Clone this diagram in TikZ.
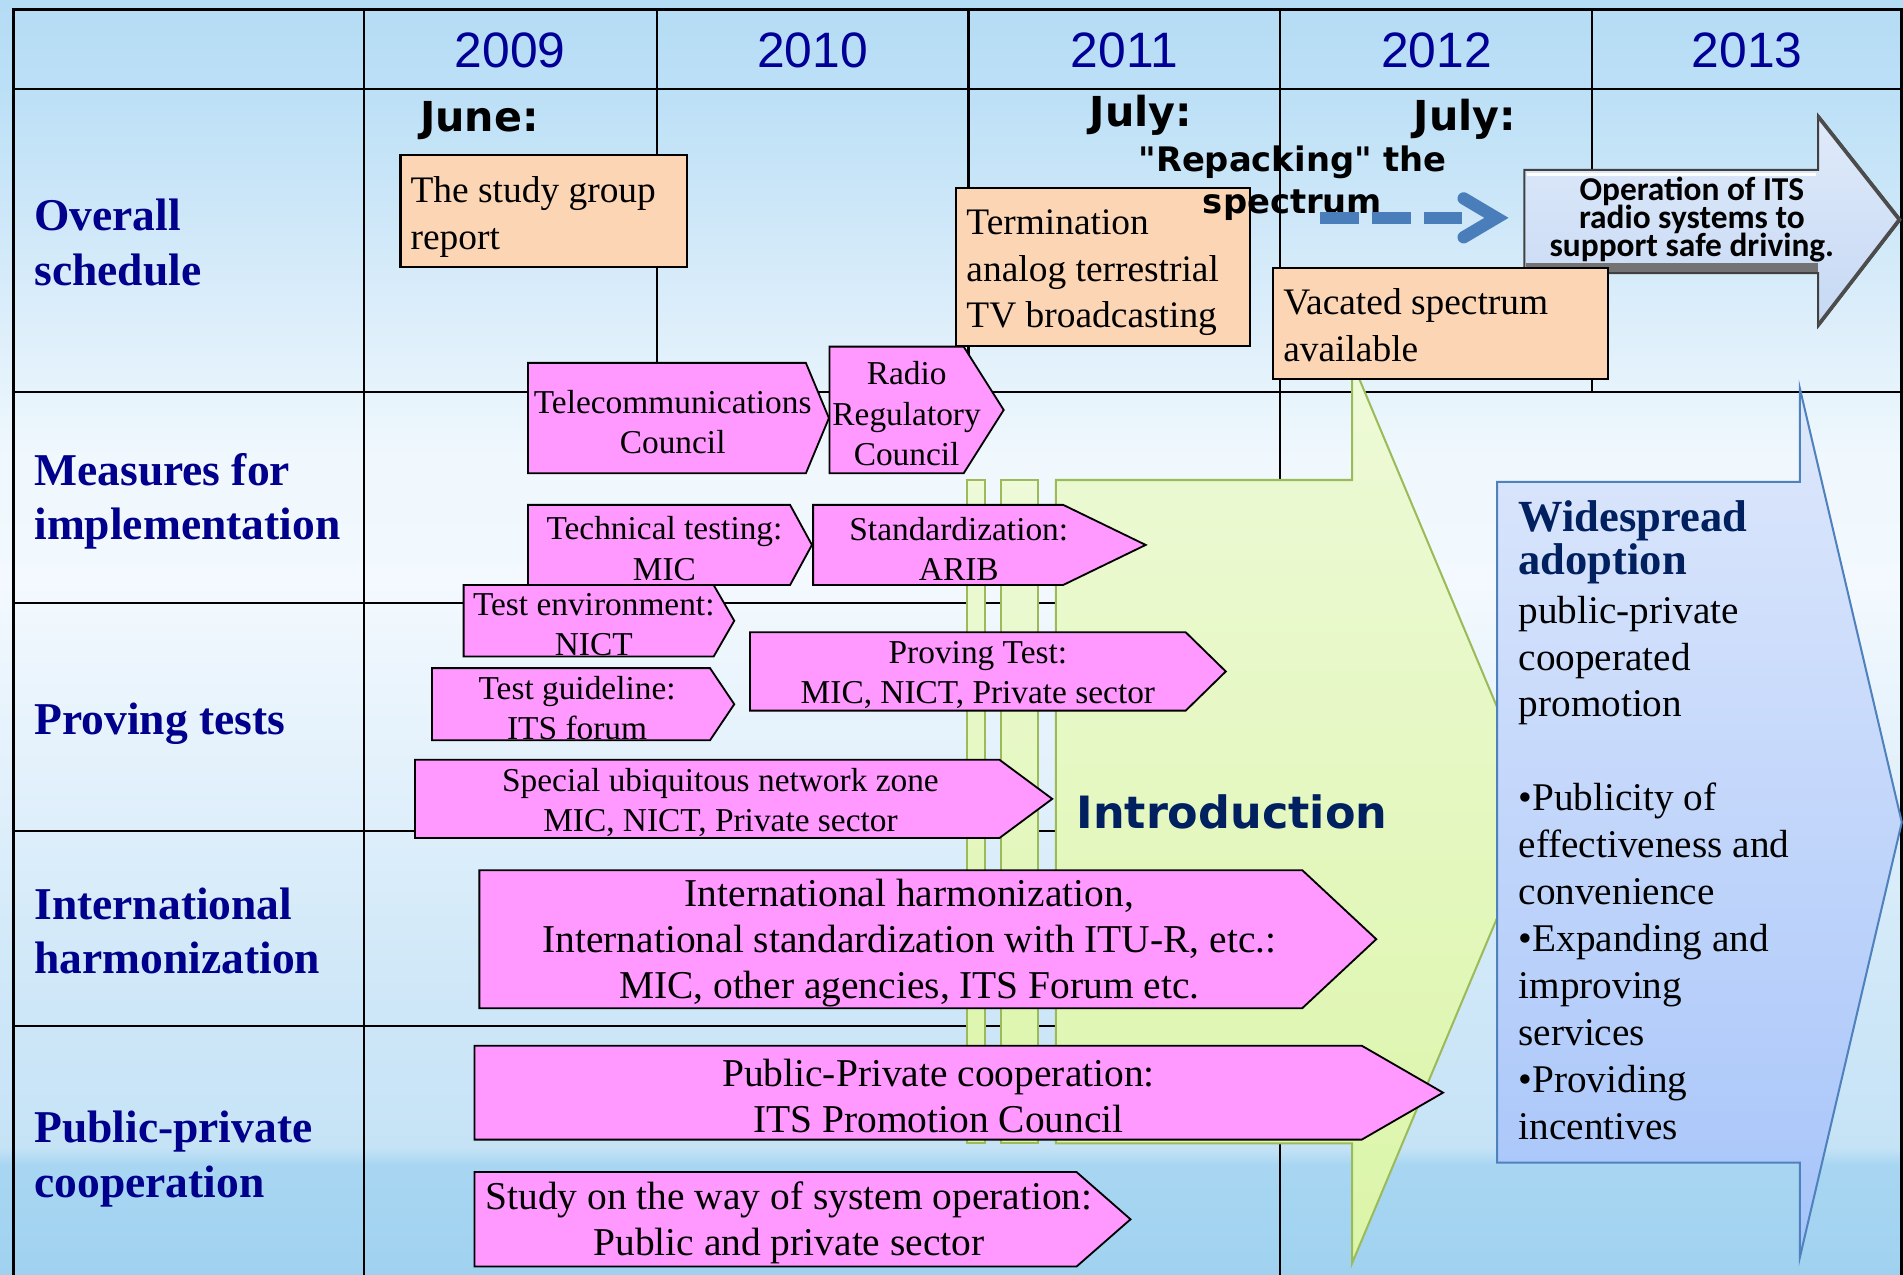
\documentclass[tikz,border=0pt]{standalone}
\usepackage{fontspec}
\setmainfont{Liberation Serif}
\setsansfont{Liberation Sans}
\newfontfamily\verdanafont{DejaVu Sans}[Ligatures=TeXOff]
\newfontfamily\calibrifont{Carlito}
\usetikzlibrary{calc}

\definecolor{yearblue}{RGB}{0,0,150}
\definecolor{labelblue}{RGB}{0,0,140}
\definecolor{navy}{RGB}{0,32,96}
\definecolor{pinkfill}{RGB}{255,153,255}
\definecolor{peach}{RGB}{252,213,181}
\definecolor{introline}{RGB}{155,187,89}
\definecolor{adoptline}{RGB}{79,129,189}
\definecolor{repackblue}{RGB}{74,126,187}

\pgfdeclareverticalshading{slidebg}{100bp}{%
  rgb(0bp)=(0.627,0.824,0.941); rgb(25bp)=(0.627,0.824,0.941);
  rgb(29.3bp)=(0.659,0.839,0.949); rgb(30bp)=(0.776,0.890,0.965);
  rgb(36.9bp)=(0.816,0.910,0.973); rgb(44bp)=(0.882,0.941,0.984);
  rgb(52.1bp)=(0.953,0.976,0.996); rgb(56.9bp)=(0.941,0.973,0.992);
  rgb(63.1bp)=(0.855,0.929,0.980); rgb(71.7bp)=(0.733,0.875,0.965);
  rgb(75bp)=(0.710,0.863,0.961); rgb(100bp)=(0.710,0.863,0.961)}

\tikzset{
  frame line/.style={draw=black, line width=1.5pt},
  grid line/.style={draw=black, line width=1pt},
  year/.style={inner sep=0pt, text=yearblue, font=\sffamily\fontsize{24.6}{29}\selectfont},
  row label/.style={anchor=west, align=left, inner sep=0pt, text=labelblue,
        font=\bfseries\fontsize{22.5}{27}\selectfont},
  month/.style={inner sep=0pt, font=\verdanafont\bfseries\fontsize{20.4}{24}\selectfont},
  repack text/.style={align=center, inner sep=0pt,
        font=\verdanafont\bfseries\fontsize{16.7}{21}\selectfont},
  repack/.style={draw=repackblue, line width=6.1pt, dash pattern=on 19.2pt off 6.3pt},
  repack head/.style={draw=repackblue, line width=6.1pt, line cap=round, line join=miter},
  note/.style={draw=black, fill=peach, line width=1pt},
  note text/.style={anchor=west, align=left, inner sep=0pt, font=\fontsize{18.5}{23}\selectfont},
  pointer/.style={draw=black, fill=pinkfill, line width=0.9pt},
  pointer text/.style={align=center, inner sep=0pt, font=\fontsize{16.5}{19.8}\selectfont},
  intro/.style={draw=introline, line width=1pt, top color={rgb,255:red,238;green,250;blue,216},
        bottom color={rgb,255:red,219;green,245;blue,168}},
  intro text/.style={inner sep=0pt, text=navy, font=\verdanafont\bfseries\fontsize{22}{26}\selectfont},
  adopt/.style={draw=adoptline, line width=1pt, top color={rgb,255:red,222;green,232;blue,251},
        bottom color={rgb,255:red,166;green,196;blue,250}},
  adopt title/.style={anchor=west, align=left, inner sep=0pt, text=navy,
        font=\bfseries\fontsize{22}{21}\selectfont},
  adopt text/.style={anchor=west, align=left, inner sep=0pt, font=\fontsize{19.4}{23.2}\selectfont},
  operation/.style={draw=black!75, line width=1pt, top color={rgb,255:red,224;green,235;blue,250},
        bottom color={rgb,255:red,198;green,216;blue,244}},
  operation text/.style={inner sep=0pt, font=\calibrifont\bfseries\fontsize{16.5}{20}\selectfont}
}

% pink pointer: name, left, top, body right, bottom, tip, text
\def\Pointer#1#2#3#4#5#6#7{%
  \filldraw[pointer] (#2,#3) -- (#4,#3) -- (#6,{(#3+#5)/2}) -- (#4,#5) -- (#2,#5) -- cycle;
  \node[pointer text] (#1) at ({(#2+(#4+#6)/2)/2},{(#3+#5)/2+3}) {#7};
}
% peach note: name, left, top, right, bottom, text centre, text
\def\Note#1#2#3#4#5#6#7{%
  \filldraw[note] (#2,#3) rectangle (#4,#5);
  \node[note text] (#1) at ({#2+8},#6) {#7};
}

\begin{document}
\begin{tikzpicture}[x=0.6pt, y=-0.6pt]
\useasboundingbox (0,0) rectangle (1568,1050);
\shade[shading=slidebg] (0,0) rectangle (1568,1050);

% table
\draw[frame line] (11,1051) -- (11,8) -- (1567,8) -- (1567,1051);
\draw[grid line] (11,73) -- (1567,73) (11,323) -- (1567,323);
\foreach \y in {497,685,845}
  \draw[grid line] (11,\y) -- (1114,\y);
\draw[grid line] (300,8) -- (300,1051) (1055,8) -- (1055,1051);
\foreach \x in {541,798,1312}
  \draw[grid line] (\x,8) -- (\x,323);

\foreach \yr/\x in {2009/420.5,2010/669.5,2011/926.5,2012/1183.5,2013/1439.5}
  \node[year] (year\yr) at (\x,41.5) {\yr};

\node[row label] (overall) at (28,200) {Overall\\schedule};
\node[row label] (measures) at (28,413) {Measures for\\implementation};
\node[row label] (proving) at (28,596) {Proving tests};
\node[row label] (international) at (28,767) {International\\harmonization};
\node[row label] (cooperation) at (28,955) {Public-private\\cooperation};

\node[month] (june) at (395,99) {June:};
\node[month] (julyA) at (940,95) {July:};
\node[month] (julyB) at (1207,98) {July:};

% striped arrow
\draw[intro] (797,395.5) rectangle (811.5,942);
\draw[intro] (825,395.5) rectangle (855.5,942);
\draw[intro] (870,395.5) -- (1114,395.5) -- (1114,298) -- (1270,669.5) -- (1114,1041)
  -- (1114,942) -- (870,942) -- cycle;
\node[intro text] (introduction) at (1015,669) {Introduction};

% widespread adoption
\draw[adopt] (1233.5,397) -- (1483,397) -- (1483,320) -- (1567,677.5) -- (1483,1036)
  -- (1483,958) -- (1233.5,958) -- cycle;
\node[adopt title] (adoption) at (1251,447) {Widespread\\adoption};
\node[adopt text] (promotion) at (1251,715) {public-private\\cooperated\\promotion\\[23.2pt]%
  •Publicity of\\effectiveness and\\convenience\\•Expanding and\\improving\\services\\%
  •Providing\\incentives};

\Pointer{telecom}{435}{299}{664}{390}{683}{Telecommunications\\Council}
\Pointer{radio}{683.5}{285.6}{794}{390}{827}{Radio\\Regulatory\\Council}
\Pointer{technical}{435}{416}{651}{482}{669}{Technical testing:\\MIC}
\Pointer{standard}{670}{416}{876}{482}{944}{Standardization:\\ARIB}
\Pointer{testenv}{382}{482}{588}{541}{605}{Test environment:\\NICT}
\Pointer{guideline}{356}{550.5}{585}{610}{605}{Test guideline:\\ITS forum}
\Pointer{provingtest}{618}{521}{977}{585.5}{1010}{Proving Test:\\MIC, NICT, Private sector}
\Pointer{ubiquitous}{342}{626}{823.5}{690.5}{867}{Special ubiquitous network zone\\MIC, NICT, Private sector}
\tikzset{pointer text/.append style={font=\fontsize{19.5}{22.8}\selectfont}}
\Pointer{harmonization}{395}{717}{1073}{830.7}{1134}{International harmonization,\\International standardization with ITU-R, etc.:\\MIC, other agencies, ITS Forum etc.}
\Pointer{promotioncouncil}{391}{861.6}{1122}{939}{1189}{Public-Private cooperation:\\ITS Promotion Council}
\Pointer{systemop}{391}{965.7}{887}{1043.6}{931.5}{Study on the way of system operation:\\Public and private sector}

% operation arrow
\draw[operation] (1256,140) -- (1498,140) -- (1498,95) -- (1566,181) -- (1498,269)
  -- (1498,225) -- (1256,225) -- cycle;
\fill[black!55] (1257,217) rectangle (1498,224.5);
\draw[white, line width=1.5pt] (1258,143.5) -- (1496,143.5);
\draw[black!70, line width=1.8pt] (1498,96) -- (1565,181) -- (1498,268);
\foreach \t [count=\i] in {Operation of ITS, radio systems to, support safe driving.}
  \node[operation text] (operation\i) at (1394,{135+23*\i}) {\t};

\Note{studyreport}{330}{128}{566}{220}{179}{The study group\\report}
\Note{termination}{788}{155}{1030}{285}{225}{Termination\\analog terrestrial\\TV broadcasting}
\Note{vacated}{1049}{221}{1325}{312}{268}{Vacated spectrum\\available}

\node[repack text] (repacking) at (1065,151) {"Repacking" the\\spectrum};
\coordinate (repack start) at (1088,179.5);
\coordinate (repack end) at (1205,179.5);
\draw[repack] (repack start) -- (repack end);
\draw[repack head] ($(repack end)+(1,-16)$) -- ($(repack end)+(28,0)$) -- ($(repack end)+(1,16)$);
\end{tikzpicture}
\end{document}
